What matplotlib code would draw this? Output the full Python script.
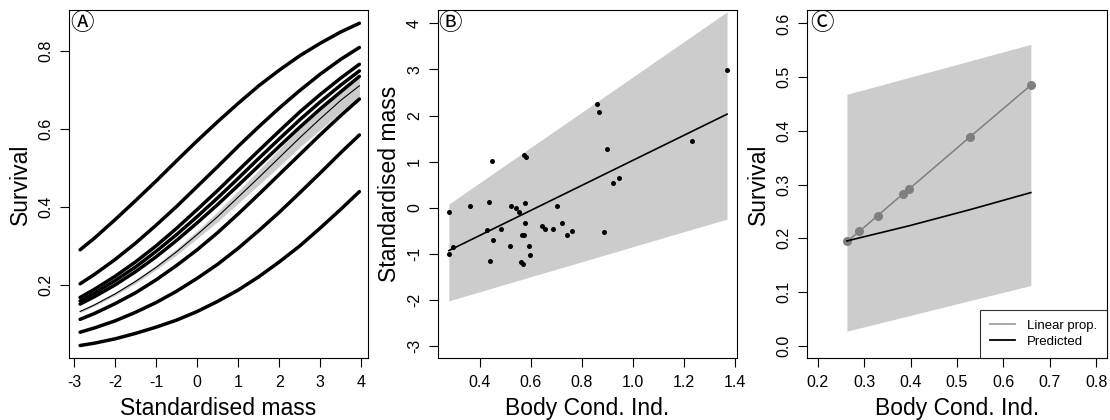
import matplotlib
matplotlib.use('Agg')
import matplotlib.pyplot as plt

plt.rcParams['font.family'] = ['Liberation Sans', 'DejaVu Sans']
plt.rcParams['axes.unicode_minus'] = False

# ---- panel A: survival vs standardised mass
mass = [-2.85, -2.5, -2, -1.5, -1, -0.5, 0, 0.5, 1, 1.5, 2, 2.5, 3, 3.5, 3.95]
surv_curves = [
    [0.290, 0.320, 0.367, 0.416, 0.466, 0.518, 0.569, 0.618, 0.665, 0.710, 0.750, 0.787, 0.819, 0.848, 0.870],
    [0.203, 0.227, 0.265, 0.307, 0.353, 0.401, 0.452, 0.503, 0.555, 0.605, 0.653, 0.698, 0.740, 0.778, 0.808],
    [0.168, 0.189, 0.222, 0.259, 0.300, 0.345, 0.393, 0.442, 0.493, 0.544, 0.594, 0.643, 0.688, 0.730, 0.765],
    [0.159, 0.179, 0.211, 0.246, 0.286, 0.329, 0.375, 0.423, 0.473, 0.524, 0.574, 0.623, 0.669, 0.712, 0.748],
    [0.151, 0.170, 0.200, 0.234, 0.272, 0.314, 0.359, 0.406, 0.455, 0.505, 0.555, 0.604, 0.651, 0.695, 0.734],
    [0.112, 0.127, 0.152, 0.180, 0.213, 0.250, 0.290, 0.334, 0.382, 0.432, 0.483, 0.534, 0.585, 0.634, 0.676],
    [0.079, 0.090, 0.108, 0.130, 0.155, 0.184, 0.217, 0.253, 0.294, 0.339, 0.386, 0.436, 0.487, 0.539, 0.584],
    [0.045, 0.051, 0.062, 0.076, 0.092, 0.110, 0.132, 0.158, 0.187, 0.221, 0.259, 0.300, 0.346, 0.394, 0.439],
]
surv_mean = [0.132, 0.149, 0.177, 0.209, 0.245, 0.285, 0.329, 0.375, 0.425, 0.475, 0.526, 0.577, 0.626, 0.673, 0.710]
surv_lo = [0.129, 0.146, 0.173, 0.204, 0.239, 0.277, 0.319, 0.362, 0.409, 0.456, 0.504, 0.553, 0.598, 0.644, 0.680]
surv_hi = [0.135, 0.153, 0.181, 0.214, 0.251, 0.293, 0.339, 0.388, 0.441, 0.494, 0.548, 0.602, 0.653, 0.702, 0.740]

# ---- panel B: standardised mass vs body condition index
bci_pts = [0.281, 0.280, 0.298, 0.361, 0.437, 0.431, 0.450, 0.452, 0.442, 0.484,
           0.520, 0.525, 0.543, 0.554, 0.577, 0.577, 0.567, 0.575, 0.562, 0.570,
           0.595, 0.598, 0.576, 0.582, 0.645, 0.655, 0.687, 0.702, 0.723, 0.741,
           0.762, 0.861, 0.866, 0.898, 0.887, 0.923, 0.946, 1.231, 1.369]
mass_pts = [-0.09, -1.01, -0.86, 0.04, 0.13, -0.48, 1.02, -0.70, -1.16, -0.455,
            -0.83, 0.04, 0.0, -0.09, 0.10, -0.34, -0.585, -0.585, -1.17, -1.21,
            -0.83, -1.02, 1.15, 1.09, -0.40, -0.455, -0.455, 0.04, -0.34, -0.585,
            -0.51, 2.26, 2.07, 1.27, -0.52, 0.53, 0.65, 1.45, 2.99]
fit_x = [0.280, 1.369]
fit_y = [-0.93, 2.03]
fit_lo = [-2.02, -0.245]
fit_hi = [0.08, 4.25]

# ---- panel C: survival vs body condition index
lin_x = [0.263, 0.290, 0.329, 0.383, 0.396, 0.527, 0.659]
lin_y = [0.194, 0.213, 0.242, 0.282, 0.291, 0.388, 0.485]
pred_x = [0.263, 0.396, 0.527, 0.659]
pred_y = [0.195, 0.223, 0.253, 0.285]
band_x = [0.263, 0.659]
band_lo = [0.027, 0.112]
band_hi = [0.468, 0.561]

band_col = '#cccccc'
W, H = 1110, 420

fig = plt.figure(figsize=(W / 100, H / 100), dpi=100)


def make_axes(left_px, width_px=299):
    ax = fig.add_axes([left_px / W, 1 - 358 / H, width_px / W, 348 / H])
    for s in ax.spines.values():
        s.set_linewidth(0.8)
    ax.tick_params(direction='out', length=6.5, width=0.8, labelsize=11.5)
    ax.tick_params(axis='x', pad=6)
    ax.tick_params(axis='y', pad=5)
    ax.xaxis.set_label_coords(0.5, -0.112)
    ax.yaxis.set_label_coords(-0.125, 0.5)
    return ax


def rot_y(ax):
    plt.setp(ax.get_yticklabels(), rotation=90, va='center')


def panel_tag(ax, s, xpos):
    # circled letter in the top-left corner
    ax.text(xpos, 0.96, s, transform=ax.transAxes, ha='center', va='center',
            fontsize=17, family=['Noto Sans CJK JP', 'DejaVu Sans'])


# A
ax1 = make_axes(69)
ax1.fill_between(mass, surv_lo, surv_hi, color=band_col, lw=0)
for c in surv_curves:
    ax1.plot(mass, c, color='black', lw=2.5, solid_capstyle='round')
ax1.plot(mass, surv_mean, color='black', lw=0.8)
ax1.set_xlim(-3.12, 4.16)
ax1.set_ylim(0.013, 0.904)
ax1.set_xticks(range(-3, 5))
ax1.set_yticks([0.2, 0.4, 0.6, 0.8])
rot_y(ax1)
ax1.set_xlabel('Standardised mass', fontsize=16.5)
ax1.set_ylabel('Survival', fontsize=16.5)
panel_tag(ax1, 'Ⓐ', 0.044)

# B
ax2 = make_axes(438)
ax2.fill_between(fit_x, fit_lo, fit_hi, color=band_col, lw=0)
ax2.plot(fit_x, fit_y, color='black', lw=1.2)
ax2.plot(bci_pts, mass_pts, 'o', color='black', ms=3.6, mec='none')
ax2.set_xlim(0.2375, 1.408)
ax2.set_ylim(-3.26, 4.29)
ax2.set_xticks([0.4, 0.6, 0.8, 1.0, 1.2, 1.4])
ax2.set_xticklabels(['0.4', '0.6', '0.8', '1.0', '1.2', '1.4'])
ax2.set_yticks(range(-3, 5))
rot_y(ax2)
ax2.set_xlabel('Body Cond. Ind.', fontsize=16.5)
ax2.set_ylabel('Standardised mass', fontsize=16.5)
panel_tag(ax2, 'Ⓑ', 0.042)

# C
ax3 = make_axes(807, 300)
ax3.fill_between(band_x, band_lo, band_hi, color=band_col, lw=0)
ax3.plot(lin_x, lin_y, '-o', color='#7f7f7f', lw=1.1, ms=6.5, mec='none')
ax3.plot(pred_x, pred_y, color='black', lw=1.2)
ax3.set_xlim(0.177, 0.823)
ax3.set_ylim(-0.023, 0.625)
ax3.set_xticks([0.2, 0.3, 0.4, 0.5, 0.6, 0.7, 0.8])
ax3.set_yticks([0.0, 0.1, 0.2, 0.3, 0.4, 0.5, 0.6])
ax3.set_yticklabels(['0.0', '0.1', '0.2', '0.3', '0.4', '0.5', '0.6'])
rot_y(ax3)
ax3.set_xlabel('Body Cond. Ind.', fontsize=16.5)
ax3.set_ylabel('Survival', fontsize=16.5)
panel_tag(ax3, 'Ⓒ', 0.049)

h = [plt.Line2D([], [], color='#a0a0a0', lw=1.3),
     plt.Line2D([], [], color='black', lw=1.3)]
leg = ax3.legend(h, ['Linear prop.', 'Predicted'], loc='lower right',
                 fontsize=9.5, frameon=True, fancybox=False, borderaxespad=0,
                 handlelength=1.9, handletextpad=0.9, labelspacing=0.3,
                 borderpad=0.75)
leg.get_frame().set_edgecolor('black')
leg.get_frame().set_linewidth(0.8)

fig.savefig('out.png', dpi=100)
